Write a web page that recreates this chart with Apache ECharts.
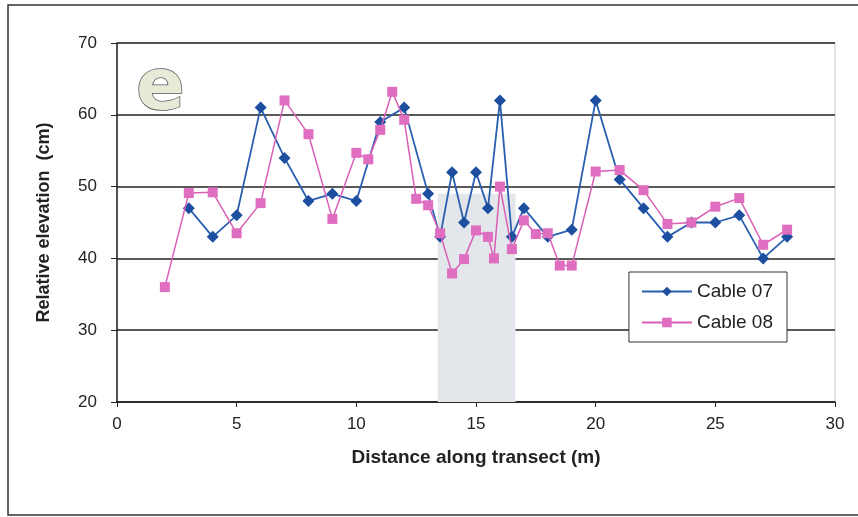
<!DOCTYPE html>
<html>
<head>
<meta charset="utf-8">
<script src="https://cdn.jsdelivr.net/npm/echarts@6/dist/echarts.min.js"></script>
<style>
  html, body { margin: 0; padding: 0; background: #fff; }
  #chart { width: 858px; height: 517px; }
</style>
</head>
<body>
<div id="chart"></div>
<script>
// distance (m) / elevation (cm)
var cable07X = [3, 4, 5, 6, 7, 8, 9, 10, 11, 12, 13, 13.5, 14, 14.5, 15, 15.5, 16, 16.5, 17, 18, 19, 20, 21, 22, 23, 24, 25, 26, 27, 28];
var cable07Y = [47, 43, 46, 61, 54, 48, 49, 48, 59, 61, 49, 43, 52, 45, 52, 47, 62, 43, 47, 43, 44, 62, 51, 47, 43, 45, 45, 46, 40, 43];

var cable08X = [2, 3, 4, 5, 6, 7, 8, 9, 10, 10.5, 11, 11.5, 12, 12.5, 13, 13.5, 14, 14.5, 15, 15.5, 15.75, 16, 16.5, 17, 17.5, 18, 18.5, 19, 20, 21, 22, 23, 24, 25, 26, 27, 28];
var cable08Y = [36, 49.1, 49.2, 43.5, 47.7, 62, 57.3, 45.5, 54.7, 53.8, 57.9, 63.2, 59.3, 48.3, 47.4, 43.5, 37.9, 39.9, 43.9, 43, 40, 50, 41.3, 45.3, 43.4, 43.5, 39, 39, 52.1, 52.3, 49.5, 44.8, 45, 47.2, 48.4, 41.9, 44];

// shaded band (x from, x to, y top)
var bandX = [13.4, 16.65];
var bandTop = 49;

function pairs(xs, ys) {
  return xs.map(function (x, i) { return [x, ys[i]]; });
}

var chart = echarts.init(document.getElementById('chart'));

var fontFam = '"Liberation Sans", Arial, sans-serif';

chart.setOption({
  backgroundColor: '#fff',
  animation: false,
  graphic: [
    {
      type: 'rect',
      shape: { x: 8, y: 5, width: 900, height: 510 },
      style: { fill: 'none', stroke: '#333', lineWidth: 1.5 },
      z: 0
    },
    {
      type: 'text',
      x: 136,
      y: 54,
      style: {
        text: 'e',
        font: 'bold 72px "DejaVu Sans", sans-serif',
        fill: '#e6ebd8',
        stroke: '#555',
        lineWidth: 1.5
      },
      z: 10
    }
  ],
  grid: {
    left: 117,
    right: 23,
    top: 43,
    bottom: 115,
    show: true,
    borderColor: '#c8c8c8',
    borderWidth: 1
  },
  legend: {
    right: 71,
    top: 272,
    orient: 'vertical',
    itemWidth: 50,
    itemHeight: 12,
    itemGap: 12,
    padding: [10, 14, 10, 12],
    borderColor: '#333',
    borderWidth: 1,
    backgroundColor: '#fff',
    textStyle: { fontFamily: fontFam, fontSize: 19, color: '#222' },
    data: ['Cable 07', 'Cable 08']
  },
  xAxis: {
    type: 'value',
    min: 0,
    max: 30,
    interval: 5,
    name: 'Distance along transect (m)',
    nameLocation: 'middle',
    nameGap: 46,
    nameTextStyle: { fontFamily: fontFam, fontSize: 19, fontWeight: 'bold', color: '#222' },
    axisLine: { show: true, lineStyle: { color: '#222', width: 1.5 } },
    axisTick: { show: true, length: 5, lineStyle: { color: '#222' } },
    axisLabel: { fontFamily: fontFam, fontSize: 17, color: '#222', margin: 14 },
    splitLine: { show: false }
  },
  yAxis: {
    type: 'value',
    min: 20,
    max: 70,
    interval: 10,
    name: 'Relative elevation  (cm)',
    nameLocation: 'middle',
    nameGap: 64,
    nameTextStyle: { fontFamily: fontFam, fontSize: 18, fontWeight: 'bold', color: '#222' },
    axisLine: { show: true, lineStyle: { color: '#222', width: 1.5 } },
    axisTick: { show: true, length: 6, lineStyle: { color: '#222' } },
    axisLabel: { fontFamily: fontFam, fontSize: 17, color: '#222', margin: 20 },
    splitLine: { show: true, lineStyle: { color: '#222', width: 1.5 } }
  },
  series: [
    {
      name: 'Cable 07',
      type: 'line',
      data: pairs(cable07X, cable07Y),
      symbol: 'diamond',
      symbolSize: 12,
      itemStyle: { color: '#1c4f9f' },
      lineStyle: { color: '#2a5fb0', width: 1.8 },
      z: 3,
      markArea: {
        silent: true,
        itemStyle: { color: '#e3e6eb' },
        data: [[{ xAxis: bandX[0], yAxis: 20 }, { xAxis: bandX[1], yAxis: bandTop }]]
      }
    },
    {
      name: 'Cable 08',
      type: 'line',
      data: pairs(cable08X, cable08Y),
      symbol: 'rect',
      symbolSize: 10,
      itemStyle: { color: '#e06ec0' },
      lineStyle: { color: '#d85fb5', width: 1.5 },
      z: 4
    }
  ]
});
</script>
</body>
</html>
